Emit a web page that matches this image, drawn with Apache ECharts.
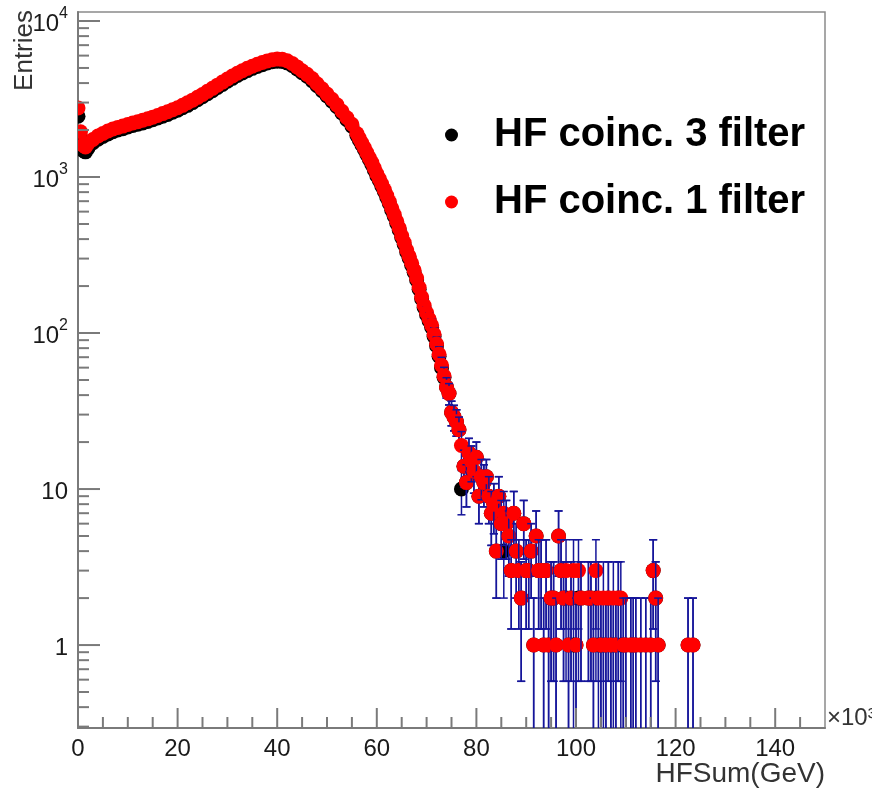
<!DOCTYPE html>
<html>
<head>
<meta charset="utf-8">
<title>HFSum</title>
<script src="https://cdn.jsdelivr.net/npm/echarts@6.0.0/dist/echarts.min.js"></script>
<style>
  html, body { margin: 0; padding: 0; background: #fff; }
  #chart { width: 872px; height: 796px; }
</style>
</head>
<body>
<div id="chart"></div>
<script>
// axis ranges (x in units of 10^3 GeV)
const xMin = 0, xMax = 150;
const yMin = 0.294, yMax = 11420;

// bulk of the distribution
const bodyX = [0, 0.5, 1, 1.5, 2, 3, 4, 5, 6, 7, 8, 9, 10, 11, 12, 13, 14, 15, 16, 17, 18, 19,
  20, 21, 22, 23, 24, 25, 26, 27, 28, 29, 30, 31, 32, 33, 34, 35, 36, 37, 38, 39,
  40, 41, 42, 43, 44, 45, 46, 47, 48, 49, 50, 51, 52, 53, 54, 55,
  56, 56.5, 57, 57.5, 58, 58.5, 59, 59.5, 60, 60.5, 61, 61.5, 62, 62.5, 63, 63.5, 64, 64.5, 65, 65.5,
  66, 66.5, 67, 67.5, 68, 68.5, 69, 69.5, 70, 70.5, 71, 71.5, 72, 72.5, 73, 73.5];
const coinc1Body = [2770, 1950, 1600, 1560, 1640, 1740, 1830, 1900, 1970, 2030, 2080, 2120, 2170, 2220, 2260, 2310, 2360, 2420, 2480, 2550, 2620, 2700,
  2780, 2880, 2990, 3110, 3240, 3380, 3540, 3700, 3880, 4060, 4250, 4440, 4620, 4800, 4970, 5130, 5280, 5420, 5550, 5650,
  5700, 5680, 5560, 5350, 5080, 4800, 4550, 4280, 3960, 3680, 3400, 3150, 2900, 2640, 2400, 2180,
  1900, 1770, 1650, 1540, 1430, 1330, 1240, 1140, 1050, 975, 900, 830, 760, 695, 630, 575, 520, 470, 420, 380,
  340, 310, 280, 252, 225, 196, 170, 150, 135, 123, 112, 98, 85, 73, 62, 53];
const coinc3Body = [2450, 1800, 1480, 1450, 1530, 1660, 1750, 1820, 1890, 1950, 2000, 2040, 2090, 2140, 2180, 2220, 2270, 2330, 2390, 2450, 2520, 2600,
  2680, 2780, 2880, 3000, 3130, 3270, 3420, 3570, 3750, 3920, 4110, 4290, 4470, 4650, 4810, 4970, 5110, 5250, 5380, 5480,
  5530, 5510, 5390, 5190, 4930, 4660, 4420, 4150, 3850, 3580, 3310, 3060, 2820, 2570, 2330, 2120,
  1850, 1720, 1610, 1500, 1395, 1295, 1205, 1110, 1020, 950, 875, 808, 740, 677, 613, 560, 506, 458, 409, 370,
  331, 302, 272, 245, 219, 191, 166, 146, 131, 120, 109, 95, 83, 71, 60, 52];

// low-statistics tail (entries per bin)
const tailX = [74, 74.5, 75, 75.5, 76, 76.5, 77, 77.5, 78, 78.5, 79, 79.5, 80, 80.5, 81, 81.5, 82, 82.5, 83, 83.5,
  84, 84.5, 85, 85.5, 86, 86.5, 87, 87.5, 88, 88.5, 89, 89.5, 90, 90.5, 91, 91.5, 92, 92.5, 93, 93.5,
  94, 94.5, 95, 95.5, 96, 96.5, 97, 97.5, 98, 98.5, 99, 99.5, 100, 100.5, 101,
  102.5, 103, 103.5, 104, 104.5, 105, 105.5, 106, 106.5, 107, 107.5, 108, 108.5, 109, 109.5, 110,
  111, 111.5, 112, 113, 114, 115, 115.5, 116, 116.5, 122.5, 123.5];
const coinc1Tail = [45, 41, 31, 29, 27, 24, 19, 14, 11, 17, 15, 13, 16, 9, 12, 11, 12, 9, 7, 8,
  4, 9, 6, 7, 6, 5, 3, 7, 4, 3, 2, 6, 3, 3, 4, 1, 5, 3, 3, 1,
  3, 1, 2, 2, 1, 5, 3, 2, 3, 1, 2, 3, 1, 3, 2,
  2, 2, 1, 3, 2, 1, 2, 1, 2, 1, 2, 1, 2, 2, 1, 1,
  1, 1, 1, 1, 1, 1, 3, 2, 1, 1, 1];
const coinc3Tail = [45, 41, 31, 29, 27, 24, 10, 14, 11, 17, 15, 13, 16, 9, 12, 11, 12, 9, 7, 8,
  4, 9, 6, 4, 6, 5, 3, 7, 4, 3, 2, 6, 3, 3, 4, 1, 5, 3, 3, 1,
  3, 1, 2, 2, 1, 5, 3, 2, 2, 1, 2, 1, 1, 2, 2,
  2, 2, 1, 2, 1, 1, 1, 1, 2, 1, 1, 1, 2, 1, 1, 1,
  1, 1, 1, 1, 1, 1, 3, 2, 1, 1, 1];

// tick marks
const xMajorTicks = [0, 20, 40, 60, 80, 100, 120, 140];
const xMinorTicks = [5, 10, 15, 25, 30, 35, 45, 50, 55, 65, 70, 75, 85, 90, 95, 105, 110, 115, 125, 130, 135, 145];
const yDecades = [0.1, 1, 10, 100, 1000, 10000];
const yMinorSteps = [2, 3, 4, 5, 6, 7, 8, 9];

const names = ['HF coinc. 3 filter', 'HF coinc. 1 filter'];
const colors = ['#000000', '#ff0000'];
const barColor = '#15159a';

function pairs(xs, ys) {
  const out = [];
  for (let i = 0; i < xs.length; i++) {
    if (ys[i] > 0) out.push([xs[i], ys[i]]);
  }
  return out;
}

const yTickData = [];
yDecades.forEach(function (d) {
  if (d >= yMin && d <= yMax) yTickData.push([xMin, d, 22]);
  yMinorSteps.forEach(function (m) {
    const v = d * m;
    if (v > yMin && v < yMax) yTickData.push([xMin, v, 11]);
  });
});
const xTickData = xMajorTicks.map(function (v) { return [v, yMin, 20]; })
  .concat(xMinorTicks.map(function (v) { return [v, yMin, 11]; }));

// one bin = error bar (sqrt N) then marker, drawn bin by bin like ROOT does
function histRenderer(fill) {
  return function (params, api) {
    const x = api.value(0);
    const n = api.value(1);
    const err = Math.sqrt(n);
    const lo = Math.max(n - err, yMin);
    const p = api.coord([x, n]);
    const pHi = api.coord([x, n + err]);
    const pLo = api.coord([x, lo]);
    const line = { stroke: barColor, lineWidth: 1.5 };
    const kids = [
      { type: 'line', shape: { x1: p[0], y1: pHi[1], x2: p[0], y2: pLo[1] }, style: line },
      { type: 'line', shape: { x1: p[0] - 4, y1: pHi[1], x2: p[0] + 4, y2: pHi[1] }, style: line }
    ];
    if (n - err > yMin) {
      kids.push({ type: 'line', shape: { x1: p[0] - 4, y1: pLo[1], x2: p[0] + 4, y2: pLo[1] }, style: line });
    }
    kids.push({ type: 'circle', shape: { cx: p[0], cy: p[1], r: 7.5 }, style: { fill: fill } });
    return { type: 'group', children: kids };
  };
}

function tickRenderer(horizontal) {
  return function (params, api) {
    const p = api.coord([api.value(0), api.value(1)]);
    const len = api.value(2);
    const shape = horizontal
      ? { x1: p[0], y1: p[1], x2: p[0] + len, y2: p[1] }
      : { x1: p[0], y1: p[1], x2: p[0], y2: p[1] - len };
    return { type: 'line', shape: shape, style: { stroke: '#7a7a7a', lineWidth: 2 } };
  };
}

const chart = echarts.init(document.getElementById('chart'));
const font = 'Liberation Sans, Arial, sans-serif';

chart.setOption({
  animation: false,
  backgroundColor: '#fff',
  grid: { left: 78, right: 47, top: 12, bottom: 68, show: true, borderColor: '#8a8a8a', borderWidth: 1.5 },
  legend: {
    left: 445, top: 115, orient: 'vertical', padding: 0,
    itemWidth: 13, itemHeight: 13, itemGap: 27, selectedMode: false,
    data: [{ name: names[0], icon: 'circle' }, { name: names[1], icon: 'circle' }],
    textStyle: { fontFamily: font, fontSize: 40, fontWeight: 'bold', color: '#000', lineHeight: 40, padding: [0, 0, 0, 31] }
  },
  xAxis: {
    type: 'value', min: xMin, max: xMax, interval: 20,
    axisLine: { lineStyle: { color: '#7a7a7a', width: 2 } },
    axisTick: { show: false },
    splitLine: { show: false },
    axisLabel: {
      fontFamily: font, fontSize: 24, color: '#1a1a1a', margin: 9,
      formatter: function (v) { return v % 20 === 0 && v < 150 ? String(v) : ''; }
    }
  },
  yAxis: {
    type: 'log', logBase: 10, min: yMin, max: yMax,
    axisLine: { show: true, lineStyle: { color: '#7a7a7a', width: 2 } },
    axisTick: { show: false },
    splitLine: { show: false },
    axisLabel: {
      fontFamily: font, fontSize: 24, color: '#1a1a1a', margin: 10,
      formatter: function (v) {
        const l = Math.log10(v);
        const k = Math.round(l);
        if (Math.abs(l - k) > 1e-6) return '';
        if (k === 0) return '{b|1}';
        if (k === 1) return '{b|10}';
        return '{b|10}{s|' + k + '}';
      },
      rich: {
        b: { fontFamily: font, fontSize: 24, color: '#1a1a1a', lineHeight: 30, verticalAlign: 'bottom' },
        s: { fontFamily: font, fontSize: 16, color: '#1a1a1a', lineHeight: 30, verticalAlign: 'top' }
      }
    }
  },
  graphic: [
    {
      type: 'text', x: 38, y: 10, rotation: Math.PI / 2,
      style: { text: 'Entries', fontFamily: font, fontSize: 26, fill: '#333', align: 'right', verticalAlign: 'bottom' }
    },
    {
      type: 'text', x: 825, y: 760,
      style: { text: 'HFSum(GeV)', fontFamily: font, fontSize: 28, fill: '#333', align: 'right', verticalAlign: 'top' }
    },
    {
      type: 'text', x: 827, y: 718,
      style: { text: '×10³', fontFamily: font, fontSize: 24, fill: '#333', align: 'left', verticalAlign: 'middle' }
    }
  ],
  series: [
    {
      name: 'yticks', type: 'custom', silent: true, clip: false, z: 5,
      renderItem: tickRenderer(true), data: yTickData
    },
    {
      name: 'xticks', type: 'custom', silent: true, clip: false, z: 5,
      renderItem: tickRenderer(false), data: xTickData
    },
    {
      name: names[0], type: 'custom', clip: true, z: 2,
      itemStyle: { color: colors[0] },
      renderItem: histRenderer(colors[0]),
      data: pairs(bodyX, coinc3Body).concat(pairs(tailX, coinc3Tail))
    },
    {
      name: names[1], type: 'custom', clip: true, z: 3,
      itemStyle: { color: colors[1] },
      renderItem: histRenderer(colors[1]),
      data: pairs(bodyX, coinc1Body).concat(pairs(tailX, coinc1Tail))
    }
  ]
});
</script>
</body>
</html>
